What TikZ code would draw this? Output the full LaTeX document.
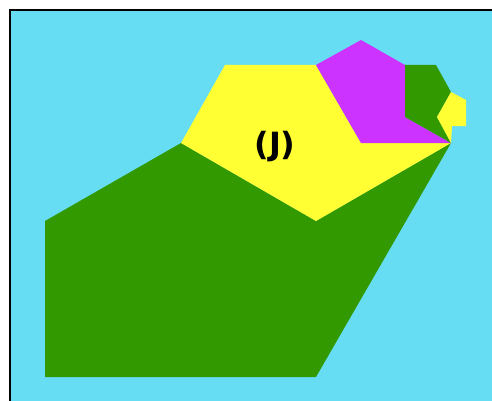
\documentclass[tikz,border=0pt]{standalone}
\usepackage{fontspec}
\setmainfont{DejaVu Sans}
\definecolor{skyblue}{HTML}{66DDF3}
\definecolor{leafgreen}{HTML}{339900}
\definecolor{lemon}{HTML}{FFFF33}
\definecolor{violet}{HTML}{CC33FF}
\begin{document}
\begin{tikzpicture}[x=1pt,y=-1pt]
		
		\useasboundingbox (0,0) rectangle (492,401);
		
		\coordinate (TL) at (10,10);
		\coordinate (TR) at (492,10);
		\coordinate (BL) at (10,401);
		\coordinate (BR) at (492,401);
		
		% Background
		\fill[white] (0,0) rectangle (492,401);
		\fill[skyblue] (TL) rectangle (BR);
		\draw[black, line width=1.2pt] (BL) -- (TL) -- (TR);
		
		% Big green piece
		\fill[leafgreen] (181,143) -- (316,221) -- (451,143) -- (316,377)
			-- (45,377) -- (45,221) -- cycle;
		
		% Big yellow piece
		\fill[lemon] (225,65) -- (316,65) -- (361,143) -- (451,143)
			-- (316,221) -- (181,143) -- cycle;
		
		% Magenta piece
		\fill[violet] (316,65) -- (361,40) -- (405,65) -- (405,117)
			-- (451,143) -- (361,143) -- cycle;
		
		% Small green piece
		\fill[leafgreen] (405,65) -- (436,65) -- (451,92) -- (437,117)
			-- (451,143) -- (405,117) -- cycle;
		
		% Small yellow piece
		\fill[lemon] (451,92) -- (466,100) -- (466,126) -- (452,126)
			-- (451,143) -- (437,117) -- cycle;
		
		% Label
		\node[font=\bfseries\fontsize{32}{38}\selectfont] (lblJ) at (275,147) {(J)};
		
	\end{tikzpicture}
\end{document}
